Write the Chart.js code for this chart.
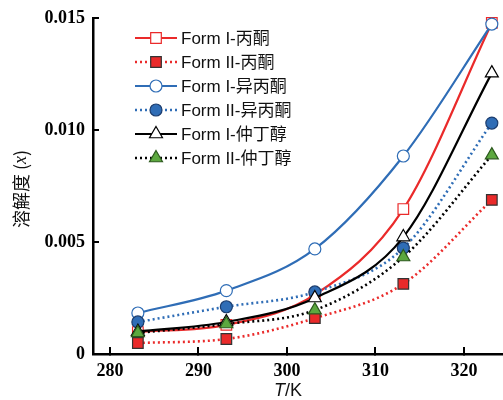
<!DOCTYPE html>
<html>
<head>
<meta charset="utf-8">
<script src="https://cdn.jsdelivr.net/npm/chart.js@4/dist/chart.umd.min.js"></script>
<style>
  html, body { margin: 0; background: #fff; }
</style>
</head>
<body>
<canvas id="solubility-chart" width="503" height="400"></canvas>
<script>
// temperatures (K) and mole-fraction solubility
const temps = [283.15, 293.15, 303.15, 313.15, 323.15];
const formIAcetone = [0.00098, 0.00130, 0.00265, 0.00647, 0.01478];
const formIIAcetone = [0.00049, 0.00067, 0.00160, 0.00313, 0.00688];
const formIIso = [0.00183, 0.00283, 0.00469, 0.00884, 0.01473];
const formIIIso = [0.00143, 0.00211, 0.00277, 0.00473, 0.01031];
const formIButanol = [0.00100, 0.00143, 0.00250, 0.00522, 0.01254];
const formIIButanol = [0.00094, 0.00134, 0.00196, 0.00433, 0.00888];

const seriesLabels = ['Form I-丙酮', 'Form II-丙酮', 'Form I-异丙酮', 'Form II-异丙酮', 'Form I-仲丁醇', 'Form II-仲丁醇'];
const xTicks = [280, 290, 300, 310, 320];
const yTicks = [0, 0.005, 0.010, 0.015];
const yTickLabels = ['0', '0.005', '0.010', '0.015'];

const RED = '#ea2a2a', BLUE = '#2f6db6', GREEN = '#5ca83f', BLACK = '#000';

function toPoints(vals) {
    return temps.map((t, i) => ({x: t, y: vals[i]}));
}

function makeSeries(idx, vals, color, dotted, style, fill, edge, radius) {
    return {
        label: seriesLabels[idx],
        data: toPoints(vals),
        borderColor: color,
        borderWidth: dotted ? 2.6 : 2.2,
        borderDash: dotted ? [2, 3] : [],
        cubicInterpolationMode: 'monotone',
        pointStyle: style,
        pointRadius: radius,
        pointBackgroundColor: fill,
        pointBorderColor: edge,
        pointBorderWidth: 1.2,
        clip: false,
        order: 5 - idx
    };
}

const datasets = [
    makeSeries(0, formIAcetone, RED, false, 'rect', '#fff', RED, 7.5),
    makeSeries(1, formIIAcetone, RED, true, 'rect', RED, '#333', 7.5),
    makeSeries(2, formIIso, BLUE, false, 'circle', '#fff', BLUE, 6),
    makeSeries(3, formIIIso, BLUE, true, 'circle', BLUE, '#1c3d6e', 6),
    makeSeries(4, formIButanol, BLACK, false, 'triangle', '#fff', BLACK, 7.5),
    makeSeries(5, formIIButanol, BLACK, true, 'triangle', GREEN, '#2d5a1e', 7.5)
];

// legend drawn inside the plot area, top left
const insideLegend = {
    id: 'insideLegend',
    afterDraw(chart) {
        const ctx = chart.ctx;
        ctx.save();
        chart.data.datasets.forEach((ds, i) => {
            const y = 38 + i * 24;
            ctx.beginPath();
            ctx.setLineDash(ds.borderDash);
            ctx.lineWidth = ds.borderWidth;
            ctx.strokeStyle = ds.borderColor;
            ctx.moveTo(135, y);
            ctx.lineTo(177, y);
            ctx.stroke();
            ctx.setLineDash([]);
            ctx.fillStyle = ds.pointBackgroundColor;
            ctx.strokeStyle = ds.pointBorderColor;
            ctx.lineWidth = ds.pointBorderWidth;
            Chart.helpers.drawPoint(ctx, {pointStyle: ds.pointStyle, radius: ds.pointRadius, rotation: 0, borderWidth: ds.pointBorderWidth}, 156, y);
            ctx.fillStyle = '#111';
            ctx.font = '17px "Liberation Sans", "Noto Sans CJK SC", sans-serif';
            ctx.textBaseline = 'middle';
            ctx.textAlign = 'left';
            ctx.fillText(ds.label, 181, y + 1);
        });
        ctx.restore();
    }
};

// axis titles with italic symbols
const axisTitles = {
    id: 'axisTitles',
    afterDraw(chart) {
        const ctx = chart.ctx;
        ctx.save();
        ctx.fillStyle = '#111';
        ctx.textBaseline = 'middle';
        ctx.textAlign = 'left';
        // y title
        const f1 = '18px "Noto Sans CJK SC", "Liberation Serif", serif';
        const f2 = 'italic 18px "Liberation Serif", serif';
        ctx.font = f1;
        const a = '溶解度 (', c = ')';
        const wa = ctx.measureText(a).width, wc = ctx.measureText(c).width;
        ctx.font = f2;
        const wb = ctx.measureText('x').width;
        ctx.translate(21, 189);
        ctx.rotate(-Math.PI / 2);
        let x = -(wa + wb + wc) / 2;
        ctx.font = f1; ctx.fillText(a, x, 0); x += wa;
        ctx.font = f2; ctx.fillText('x', x, 0); x += wb;
        ctx.font = f1; ctx.fillText(c, x, 0);
        ctx.setTransform(1, 0, 0, 1, 0, 0);
        // x title
        const g1 = 'italic 18px "Liberation Sans", sans-serif';
        const g2 = '18px "Liberation Sans", sans-serif';
        ctx.font = g1;
        const wt = ctx.measureText('T').width;
        ctx.font = g2;
        const wk = ctx.measureText('/K').width;
        let tx = 288 - (wt + wk) / 2;
        ctx.font = g1; ctx.fillText('T', tx, 391);
        ctx.font = g2; ctx.fillText('/K', tx + wt, 391);
        ctx.restore();
    }
};

const tickFont = {family: '"Liberation Serif", serif', weight: 'bold', size: 18};

function noScalePadding(s) {
    s.paddingTop = 0;
    s.paddingBottom = 0;
    s.paddingLeft = 0;
    s.paddingRight = 0;
}

let ctx = document.getElementById('solubility-chart').getContext('2d');
let solubilityChart = new Chart(ctx, {
    type: 'line',
    data: {datasets: datasets},
    options: {
        responsive: false,
        devicePixelRatio: 1,
        animation: false,
        layout: {autoPadding: false, padding: {top: 18, right: 1, left: 0, bottom: 0}},
        plugins: {legend: {display: false}, tooltip: {enabled: false}},
        scales: {
            x: {
                type: 'linear',
                min: 278.08,
                max: 324.3,
                afterBuildTicks: s => { s.ticks = xTicks.map(v => ({value: v})); },
                afterFit: s => { s.height = 46; noScalePadding(s); },
                border: {color: '#000', width: 2.5},
                grid: {drawOnChartArea: false, color: '#000', lineWidth: 2, tickLength: -7},
                ticks: {color: '#000', font: tickFont, padding: 14, maxRotation: 0}
            },
            y: {
                type: 'linear',
                min: 0,
                max: 0.015,
                afterBuildTicks: s => { s.ticks = yTicks.map(v => ({value: v})); },
                afterFit: s => { s.width = 93; noScalePadding(s); },
                border: {color: '#000', width: 2.5},
                grid: {drawOnChartArea: false, color: '#000', lineWidth: 2, tickLength: -6},
                ticks: {
                    color: '#000',
                    font: tickFont,
                    padding: 14,
                    callback: (v, i) => yTickLabels[yTicks.indexOf(v)]
                }
            }
        }
    },
    plugins: [insideLegend, axisTitles]
});
</script>
</body>
</html>
